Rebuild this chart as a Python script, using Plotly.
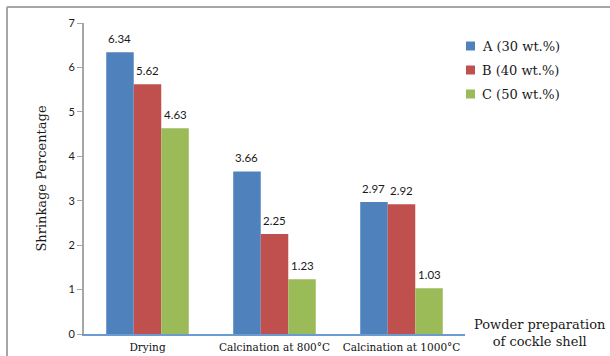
import plotly.graph_objects as go

# Shrinkage of cockle-shell powder samples at each preparation stage
categories = ["Drying", "Calcination at 800°C", "Calcination at 1000°C"]
series_names = ["A (30 wt.%)", "B (40 wt.%)", "C (50 wt.%)"]
series_a = [6.34, 3.66, 2.97]
series_b = [5.62, 2.25, 2.92]
series_c = [4.63, 1.23, 1.03]
y_ticks = [0, 1, 2, 3, 4, 5, 6, 7]

colors = ["#4F81BD", "#C0504D", "#9BBB59"]
all_series = [series_a, series_b, series_c]

W, H = 610, 356
M_L, M_R, M_T, M_B = 84, 145, 23, 22
BARGAP = 0.35
plot_w = W - M_L - M_R
plot_h = H - M_T - M_B

serif = "DejaVu Serif"
sans = "Lato"

fig = go.Figure()
for name, vals, col in zip(series_names, all_series, colors):
    fig.add_trace(go.Bar(
        x=categories, y=vals, name=name, marker=dict(color=col, line=dict(width=0)),
        showlegend=False,
    ))

# value labels above each bar
slot = plot_w / len(categories)
bar_px = slot * (1 - BARGAP) / len(all_series)
annotations = []
for i, vals in enumerate(all_series):
    for cat, v in zip(categories, vals):
        annotations.append(dict(
            x=cat, y=v, xref="x", yref="y", text=f"{v:.2f}", showarrow=False,
            xshift=(i - 1) * bar_px, yshift=14, yanchor="middle",
            font=dict(family=sans, size=11.5, color="#1a1a1a"),
        ))

# legend: coloured squares with serif labels
def px_to_paper(px, py):
    return (px - M_L) / plot_w, (H - M_B - py) / plot_h

shapes = []
legend_rows = [46, 70, 94]
for name, col, ry in zip(series_names, colors, legend_rows):
    x0, y0 = px_to_paper(466, ry - 4.5)
    x1, y1 = px_to_paper(475, ry + 4.5)
    shapes.append(dict(type="rect", xref="paper", yref="paper", x0=x0, x1=x1,
                       y0=y1, y1=y0, fillcolor=col, line=dict(width=0)))
    tx, ty = px_to_paper(480, ry)
    annotations.append(dict(x=tx, y=ty, xref="paper", yref="paper", text=name,
                            showarrow=False, xanchor="left", yanchor="middle",
                            font=dict(family=serif, size=13, color="#1a1a1a")))

# horizontal-axis caption at the lower right
cx, cy = px_to_paper(540, 333)
annotations.append(dict(x=cx, y=cy, xref="paper", yref="paper",
                        text="Powder preparation<br>of cockle shell", showarrow=False,
                        xanchor="center", yanchor="middle",
                        font=dict(family=serif, size=13, color="#1a1a1a")))

# outer frame (top and left edges)
fx, fy = px_to_paper(7, 7)
shapes.append(dict(type="line", xref="paper", yref="paper", x0=fx, x1=2.0, y0=fy, y1=fy,
                   line=dict(color="#A6A6A6", width=2)))
shapes.append(dict(type="line", xref="paper", yref="paper", x0=fx, x1=fx, y0=fy, y1=-1.0,
                   line=dict(color="#A6A6A6", width=2)))

fig.update_layout(
    width=W, height=H,
    margin=dict(l=M_L, r=M_R, t=M_T, b=M_B, autoexpand=False),
    paper_bgcolor="white", plot_bgcolor="white",
    barmode="group", bargap=BARGAP, bargroupgap=0,
    annotations=annotations, shapes=shapes,
    showlegend=False,
)
fig.update_xaxes(
    showline=True, linecolor="#6C9BD2", linewidth=2, ticks="", showgrid=False,
    tickfont=dict(family=serif, size=10.5, color="#111111"), ticklabelstandoff=2,
)
fig.update_yaxes(
    range=[0, 7], tickvals=y_ticks, showline=True, linecolor="#A6A6A6", linewidth=2,
    ticks="outside", ticklen=5, tickcolor="#A6A6A6", showgrid=False, zeroline=False,
    tickfont=dict(family=sans, size=11, color="#1a1a1a"),
    title=dict(text="Shrinkage Percentage", standoff=19,
               font=dict(family=serif, size=13, color="#1a1a1a")),
)

fig.write_html("out.html")
